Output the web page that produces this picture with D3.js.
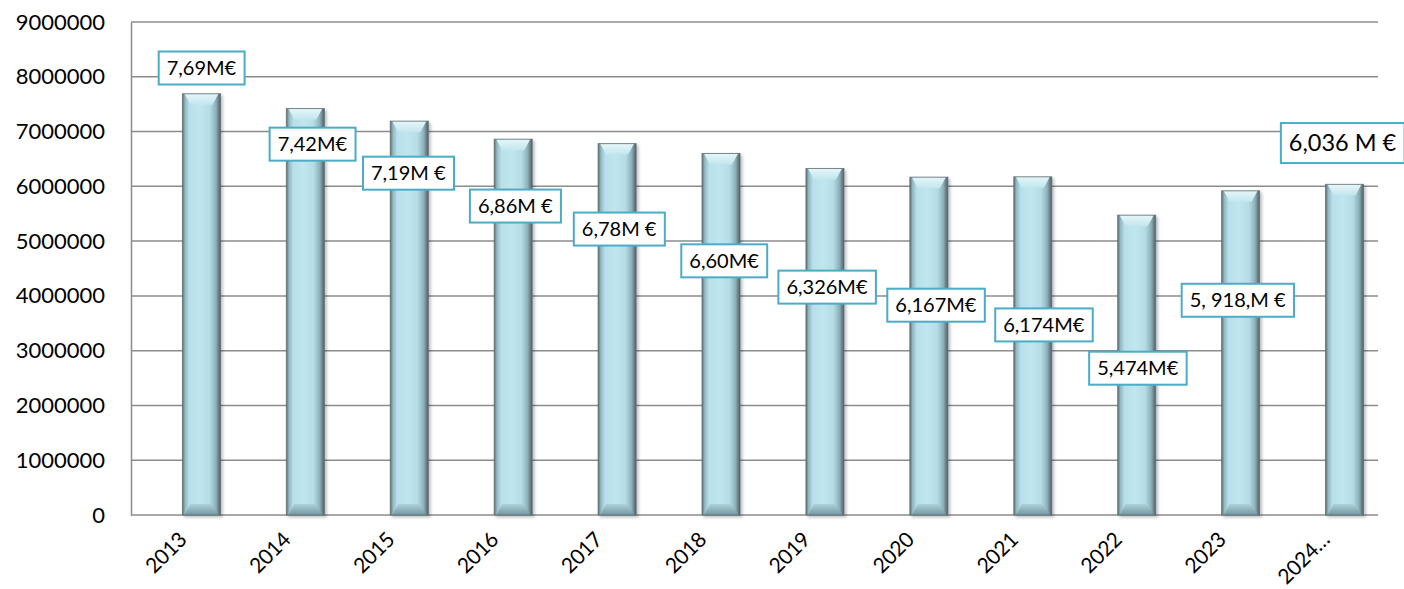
<!DOCTYPE html>
<html>
<head>
<meta charset="utf-8">
<script src="https://cdn.jsdelivr.net/npm/d3@7"></script>
<style>
  html, body { margin: 0; padding: 0; background: #fff; }
  svg { display: block; font-family: Lato, "Open Sans", sans-serif; }
</style>
</head>
<body>
<svg id="chart" width="1404" height="589"></svg>
<script>
// ---- data ----
const years = ["2013","2014","2015","2016","2017","2018","2019","2020","2021","2022","2023","2024…"];
const values = [7690000, 7420000, 7190000, 6860000, 6780000, 6600000, 6326000, 6167000, 6174000, 5474000, 5918000, 6036000];
const labels = ["7,69M€","7,42M€","7,19M €","6,86M €","6,78M €","6,60M€","6,326M€","6,167M€","6,174M€","5,474M€","5, 918,M €","6,036 M €"];
const yTicks = [0,1000000,2000000,3000000,4000000,5000000,6000000,7000000,8000000,9000000];
// label box placement (value-space centre, horizontal shift in px) — layout only
const labelCenterValue = [8160000, 6770000, 6240000, 5640000, 5220000, 4640000, 4160000, 3830000, 3470000, 2680000, 3920000, 6790000];
const labelShift = [0, 7, -1, 2, 2, 3, 2, 7, 11, 1, -3, -2];

// ---- layout ----
const svg = d3.select("#chart");
const L = 131, R = 1378, T = 22, B = 515;
const x = d3.scaleBand().domain(years).range([L, R]);
const y = d3.scaleLinear().domain([0, 9000000]).range([B, T]);
const barW = 38, barShift = 18.5;

const defs = svg.append("defs");
const g1 = defs.append("linearGradient").attr("id","barGrad").attr("x1","0").attr("x2","1").attr("y1","0").attr("y2","0");
[["0%","#5c6f73"],["7%","#92b8c1"],["18%","#b8e0ea"],["45%","#c0e6ef"],["72%","#b5dde6"],["88%","#8eb0b8"],["100%","#4f5f62"]]
  .forEach(s => g1.append("stop").attr("offset", s[0]).attr("stop-color", s[1]));
const g2 = defs.append("linearGradient").attr("id","topGrad").attr("x1","0").attr("x2","0").attr("y1","0").attr("y2","1");
[["0%","#e6f6fa"],["100%","#c2e6ee"]].forEach(s => g2.append("stop").attr("offset", s[0]).attr("stop-color", s[1]));
const g3 = defs.append("linearGradient").attr("id","botGrad").attr("x1","0").attr("x2","0").attr("y1","0").attr("y2","1");
[["0%","#add2db"],["100%","#7597a0"]].forEach(s => g3.append("stop").attr("offset", s[0]).attr("stop-color", s[1]));
const flt = defs.append("filter").attr("id","shadow").attr("x","-30%").attr("y","-10%").attr("width","160%").attr("height","130%");
flt.append("feDropShadow").attr("dx",2).attr("dy",2).attr("stdDeviation",1.5).attr("flood-color","#000").attr("flood-opacity",0.25);

// gridlines
svg.append("g").selectAll("line").data(yTicks).join("line")
  .attr("x1", L).attr("x2", R)
  .attr("y1", d => y(d)).attr("y2", d => y(d))
  .attr("stroke", "#8c8c8c").attr("stroke-width", 1.5);

// y axis
const yAxis = svg.append("g").attr("transform", `translate(${L},0)`)
  .call(d3.axisLeft(y).tickValues(yTicks).tickFormat(d3.format("d")).tickSize(0).tickPadding(26));
yAxis.select(".domain").attr("stroke", "#8c8c8c").attr("stroke-width", 1.5);
yAxis.selectAll("text").attr("font-size", 22).attr("fill", "#000").attr("font-family", "Lato, sans-serif");

// x axis
const xAxis = svg.append("g").attr("transform", `translate(0,${B})`)
  .call(d3.axisBottom(x).tickSize(0).tickPadding(0));
xAxis.select(".domain").remove();
xAxis.selectAll("text")
  .attr("font-size", 21).attr("fill", "#000").attr("font-family", "Lato, sans-serif")
  .attr("text-anchor", "end").attr("dy", 0)
  .attr("letter-spacing", -0.3)
  .attr("transform", "translate(5,26) rotate(-45)");

// bars
const bars = svg.append("g").selectAll("g").data(values).join("g")
  .attr("filter", "url(#shadow)");
bars.append("rect")
  .attr("x", (d,i) => x(years[i]) + x.bandwidth()/2 + barShift - barW/2)
  .attr("y", d => y(d))
  .attr("width", barW)
  .attr("height", d => B - y(d))
  .attr("fill", "url(#barGrad)");
bars.append("path")
  .attr("d", (d,i) => {
    const x0 = x(years[i]) + x.bandwidth()/2 + barShift - barW/2, y0 = y(d);
    return `M${x0+2},${y0}L${x0+barW-2},${y0}L${x0+barW-8},${y0+11}L${x0+8},${y0+11}Z`;
  })
  .attr("fill", "url(#topGrad)");
bars.append("path")
  .attr("d", (d,i) => {
    const x0 = x(years[i]) + x.bandwidth()/2 + barShift - barW/2;
    return `M${x0+8},${B-11}L${x0+barW-8},${B-11}L${x0+barW-2},${B}L${x0+2},${B}Z`;
  })
  .attr("fill", "url(#botGrad)");
bars.append("rect")
  .attr("x", (d,i) => x(years[i]) + x.bandwidth()/2 + barShift - barW/2)
  .attr("y", d => y(d))
  .attr("width", barW)
  .attr("height", d => B - y(d))
  .attr("fill", "none").attr("stroke", "#5d6d71").attr("stroke-width", 1).attr("stroke-opacity", 0.8);

// data labels
const lab = svg.append("g").selectAll("g").data(labels).join("g")
  .attr("transform", (d,i) => `translate(${x(years[i]) + x.bandwidth()/2 + barShift + labelShift[i]},${y(labelCenterValue[i])})`);
lab.append("text")
  .attr("text-anchor", "middle").attr("dy", "0.35em")
  .attr("font-size", (d,i) => i === labels.length - 1 ? 23.5 : 20)
  .attr("fill", "#000")
  .text(d => d);
lab.each(function(d, i) {
  const g = d3.select(this);
  const bb = g.select("text").node().getBBox();
  const padX = 8;
  const h = i === labels.length - 1 ? 40 : 33;
  g.insert("rect", "text")
    .attr("x", bb.x - padX).attr("y", -h/2)
    .attr("width", bb.width + 2*padX).attr("height", h)
    .attr("fill", "#fff").attr("stroke", "#4bacc6").attr("stroke-width", 2);
});
</script>
</body>
</html>
